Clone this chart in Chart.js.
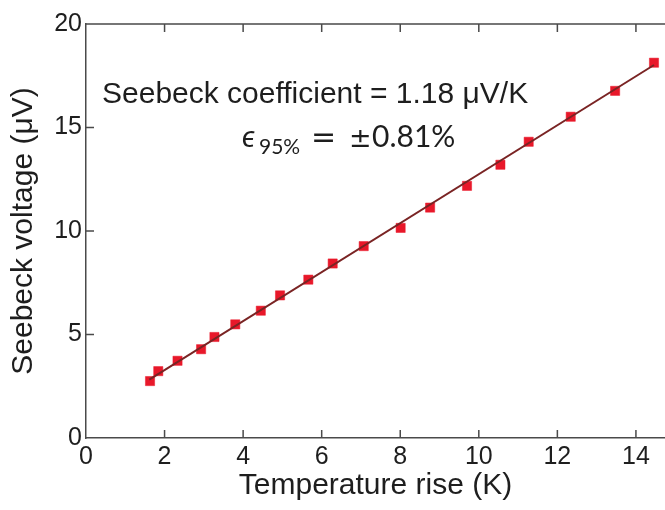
<!DOCTYPE html>
<html>
<head>
<meta charset="utf-8">
<script src="https://cdn.jsdelivr.net/npm/chart.js@4"></script>
<style>
    html, body { margin: 0; padding: 0; background: #fff; overflow: hidden; }
    #wrap { width: 665px; height: 510px; }
</style>
</head>
<body>
<div id="wrap"><canvas id="seebeckChart" width="665" height="510"></canvas></div>
<script>
// 数据
const tempRise = [1.63, 1.84, 2.33, 2.93, 3.27, 3.80, 4.45, 4.94, 5.66, 6.28, 7.07, 8.01, 8.76, 9.70, 10.55, 11.27, 12.34, 13.47, 14.46];
const voltage = [2.75, 3.23, 3.73, 4.29, 4.88, 5.49, 6.15, 6.89, 7.65, 8.43, 9.27, 10.15, 11.13, 12.18, 13.20, 14.31, 15.52, 16.77, 18.13];
// 拟合直线端点
const fitX = [1.61, 14.46];
const fitY = [2.82, 18.02];
const xTicks = [0, 2, 4, 6, 8, 10, 12, 14];
const yTicks = [0, 5, 10, 15, 20];

const axisColor = '#4a4a4a';
const textColor = '#1e1e1e';
const sansFont = '"Liberation Sans", Arial, sans-serif';
const mathFont = 'Lato, "Noto Sans", sans-serif';

// 边框和向内的刻度线
const frameTicks = {
    id: 'frameTicks',
    afterDatasetsDraw(chart) {
        const { ctx, chartArea, scales } = chart;
        const len = 8;
        ctx.save();
        ctx.strokeStyle = axisColor;
        ctx.lineWidth = 1.5;
        ctx.beginPath();
        ctx.moveTo(chartArea.left, chartArea.top);
        ctx.lineTo(chartArea.right, chartArea.top);
        xTicks.forEach(v => {
            if (v === 0) return;
            const px = scales.x.getPixelForValue(v);
            ctx.moveTo(px, chartArea.bottom);
            ctx.lineTo(px, chartArea.bottom - len);
            ctx.moveTo(px, chartArea.top);
            ctx.lineTo(px, chartArea.top + len);
        });
        yTicks.forEach(v => {
            if (v === 0 || v === 20) return;
            const py = scales.y.getPixelForValue(v);
            ctx.moveTo(chartArea.left, py);
            ctx.lineTo(chartArea.left + len, py);
        });
        ctx.stroke();
        ctx.restore();
    }
};

// 文字标注
const annotationText = {
    id: 'annotationText',
    afterDraw(chart) {
        const { ctx, chartArea } = chart;
        const L = chartArea.left, T = chartArea.top;
        ctx.save();
        ctx.fillStyle = textColor;
        ctx.textBaseline = 'alphabetic';
        ctx.textAlign = 'left';
        ctx.font = '30px ' + sansFont;
        ctx.fillText('Seebeck coefficient = 1.18 \u03BCV/K', L + 16, T + 79);

        const base = T + 123;
        ctx.font = 'italic 30px ' + mathFont;
        ctx.fillText('\u03F5', L + 156, base);
        ctx.font = '21px ' + mathFont;
        ctx.fillText('95%', L + 173, base + 7);
        ctx.font = '30px "DejaVu Sans", sans-serif';
        ctx.fillText('=', L + 225, base);
        ctx.font = '27px "DejaVu Sans", sans-serif';
        ctx.fillText('\u00B1', L + 263, base);
        ctx.font = '30px ' + mathFont;
        ctx.fillText('0.81%', L + 286, base);
        ctx.restore();
    }
};

const ctx = document.getElementById('seebeckChart').getContext('2d');
const chart = new Chart(ctx, {
    type: 'scatter',
    data: {
        datasets: [
            {
                type: 'line',
                label: 'fit',
                data: fitX.map((x, i) => ({ x, y: fitY[i] })),
                borderColor: '#7a2424',
                borderWidth: 2,
                pointRadius: 0,
                fill: false,
                order: 0
            },
            {
                label: 'data',
                data: tempRise.map((x, i) => ({ x, y: voltage[i] })),
                pointStyle: 'rect',
                pointRadius: 6.5,
                pointBackgroundColor: '#e8182a',
                pointBorderColor: '#e8182a',
                pointBorderWidth: 0.5,
                order: 1
            }
        ]
    },
    options: {
        responsive: false,
        animation: false,
        layout: {
            autoPadding: false,
            padding: { top: 24, right: 0, left: 0, bottom: 0 }
        },
        plugins: {
            legend: { display: false },
            tooltip: { enabled: false }
        },
        scales: {
            x: {
                type: 'linear',
                min: 0,
                max: 14.74,
                afterBuildTicks(scale) {
                    scale.ticks = xTicks.map(v => ({ value: v }));
                },
                afterFit(scale) {
                    scale.height = 72;
                    scale.paddingLeft = 0;
                    scale.paddingRight = 0;
                },
                grid: { display: false, drawTicks: false },
                border: { display: true, color: axisColor, width: 1.5 },
                ticks: {
                    color: textColor,
                    font: { family: sansFont, size: 25 },
                    padding: 4
                },
                title: {
                    display: true,
                    text: 'Temperature rise (K)',
                    color: textColor,
                    font: { family: sansFont, size: 30 },
                    padding: { top: 0, bottom: 6 }
                }
            },
            y: {
                min: 0,
                max: 20,
                afterBuildTicks(scale) {
                    scale.ticks = yTicks.map(v => ({ value: v }));
                },
                afterFit(scale) { scale.width = 86; },
                grid: { display: false, drawTicks: false },
                border: { display: true, color: axisColor, width: 1.5 },
                ticks: {
                    color: textColor,
                    font: { family: sansFont, size: 25 },
                    padding: 4
                },
                title: {
                    display: true,
                    text: 'Seebeck voltage (\u03BCV)',
                    color: textColor,
                    font: { family: sansFont, size: 30 },
                    padding: { top: 6, bottom: 0 }
                }
            }
        }
    },
    plugins: [frameTicks, annotationText]
});
</script>
</body>
</html>
